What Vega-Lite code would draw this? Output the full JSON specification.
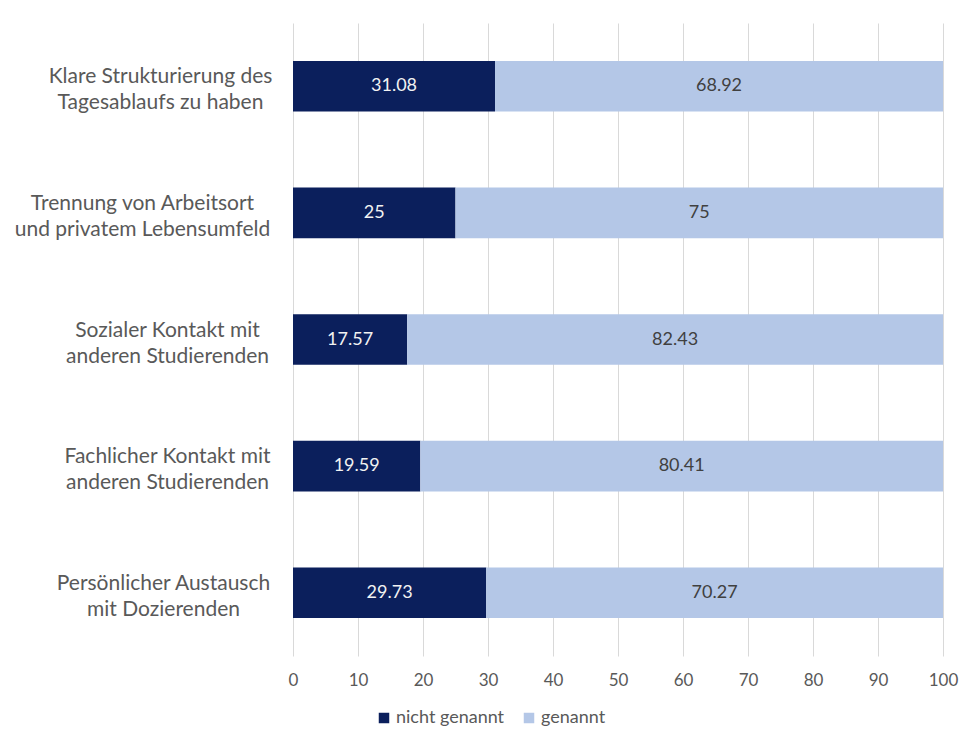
{
  "$schema": "https://vega.github.io/schema/vega-lite/v6.json",
  "width": 650,
  "height": 633,
  "autosize": {"type": "none"},
  "padding": {"left": 293, "top": 23, "right": 17, "bottom": 86},
  "background": "white",
  "config": {"view": {"stroke": null}, "font": "Lato"},
  "data": {"values": [
    {"cat": "Klare Strukturierung des|Tagesablaufs zu haben", "group": "nicht genannt", "ord": 1, "value": 31.08},
    {"cat": "Klare Strukturierung des|Tagesablaufs zu haben", "group": "genannt", "ord": 2, "value": 68.92},
    {"cat": "Trennung von Arbeitsort|und privatem Lebensumfeld", "group": "nicht genannt", "ord": 1, "value": 25},
    {"cat": "Trennung von Arbeitsort|und privatem Lebensumfeld", "group": "genannt", "ord": 2, "value": 75},
    {"cat": "Sozialer Kontakt mit|anderen Studierenden", "group": "nicht genannt", "ord": 1, "value": 17.57},
    {"cat": "Sozialer Kontakt mit|anderen Studierenden", "group": "genannt", "ord": 2, "value": 82.43},
    {"cat": "Fachlicher Kontakt mit|anderen Studierenden", "group": "nicht genannt", "ord": 1, "value": 19.59},
    {"cat": "Fachlicher Kontakt mit|anderen Studierenden", "group": "genannt", "ord": 2, "value": 80.41},
    {"cat": "Persönlicher Austausch|mit Dozierenden", "group": "nicht genannt", "ord": 1, "value": 29.73},
    {"cat": "Persönlicher Austausch|mit Dozierenden", "group": "genannt", "ord": 2, "value": 70.27}
  ]},
  "transform": [
    {"stack": "value", "groupby": ["cat"], "sort": [{"field": "ord", "order": "ascending"}], "as": ["v0", "v1"]},
    {"calculate": "(datum.v0 + datum.v1) / 2", "as": "mid"}
  ],
  "encoding": {
    "y": {
      "field": "cat", "type": "nominal",
      "sort": ["Klare Strukturierung des|Tagesablaufs zu haben", "Trennung von Arbeitsort|und privatem Lebensumfeld", "Sozialer Kontakt mit|anderen Studierenden", "Fachlicher Kontakt mit|anderen Studierenden", "Persönlicher Austausch|mit Dozierenden"],
      "scale": {"paddingInner": 0.6, "paddingOuter": 0.3},
      "axis": {
        "title": null, "ticks": false, "domain": false, "grid": false,
        "labelAlign": "center",
        "labelPadding": {
          "condition": [
            {"test": "indexof(datum.value, 'Trennung') == 0", "value": 151},
            {"test": "indexof(datum.value, 'Klare') == 0", "value": 133},
            {"test": "indexof(datum.value, 'Persönlicher') == 0", "value": 130}
          ],
          "value": 126
        },
        "labelOffset": -9,
        "labelFontSize": 21,
        "labelColor": "#595959", "labelLineHeight": 26, "labelBaseline": "middle",
        "labelExpr": "split(datum.label, '|')", "labelLimit": 300
      }
    }
  },
  "layer": [
    {
      "mark": {"type": "bar"},
      "encoding": {
        "x": {
          "field": "v0", "type": "quantitative",
          "scale": {"domain": [0, 100]},
          "axis": {
            "title": null, "values": [0, 10, 20, 30, 40, 50, 60, 70, 80, 90, 100],
            "grid": true, "gridColor": "#d9d9d9", "domain": false, "ticks": false,
            "labelPadding": 16, "labelFontSize": 17, "labelColor": "#595959", "labelFlush": false
          }
        },
        "x2": {"field": "v1"},
        "color": {
          "field": "group", "type": "nominal",
          "scale": {"domain": ["nicht genannt", "genannt"], "range": ["#0b1f5c", "#b4c7e7"]},
          "legend": {
            "title": null, "orient": "none", "direction": "horizontal",
            "legendX": 82, "legendY": 686, "symbolType": "square", "symbolSize": 110,
            "symbolStrokeWidth": 0, "labelFontSize": 18, "labelColor": "#595959",
            "columnPadding": 15, "labelOffset": 3
          }
        }
      }
    },
    {
      "mark": {"type": "text", "fontSize": 18, "align": "center", "baseline": "middle"},
      "encoding": {
        "x": {"field": "mid", "type": "quantitative"},
        "text": {"field": "value", "type": "quantitative"},
        "color": {
          "condition": {"test": "datum.group === 'nicht genannt'", "value": "#f2f2f2"},
          "value": "#404040"
        }
      }
    }
  ]
}
